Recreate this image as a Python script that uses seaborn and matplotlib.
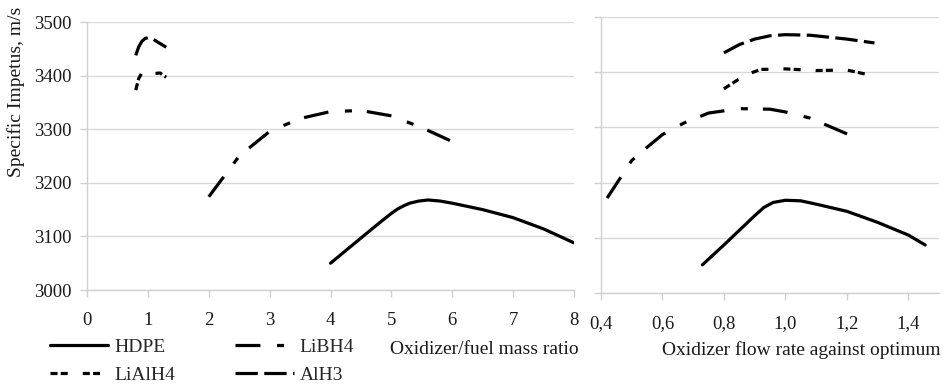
import seaborn as sns
import matplotlib.pyplot as plt
import pandas as pd

# left panel: oxidizer/fuel mass ratio
hdpe_x = [4, 4.5, 4.8, 5, 5.1, 5.2, 5.3, 5.45, 5.6, 5.8, 6, 6.5, 7, 7.5, 8]
hdpe_y = [3050, 3097, 3125, 3143, 3151, 3157, 3162, 3166, 3168, 3166, 3162, 3150, 3135, 3114, 3088]
libh4_x = [2, 2.5, 3, 3.5, 4, 4.5, 5, 5.5, 6]
libh4_y = [3174, 3250, 3296, 3320, 3333, 3335, 3325, 3303, 3277]
lialh4_x = [0.8, 0.85, 0.9, 1.0, 1.1, 1.2, 1.3]
lialh4_y = [3373, 3395, 3405, 3407, 3404, 3405, 3397]
alh3_x = [0.8, 0.85, 0.9, 0.95, 1.0, 1.05, 1.1, 1.2, 1.3]
alh3_y = [3438, 3454, 3464, 3469, 3471, 3470, 3467, 3460, 3453]

# right panel: oxidizer flow rate against optimum
hdpe_r_x = [0.73, 0.8, 0.9, 0.93, 0.96, 1.0, 1.05, 1.1, 1.2, 1.3, 1.4, 1.455]
hdpe_r_y = [3051, 3087, 3140, 3155, 3164, 3168, 3167, 3161, 3148, 3128, 3105, 3087]
libh4_r_x = [0.42, 0.5, 0.55, 0.6, 0.67, 0.75, 0.85, 0.95, 1.0, 1.08, 1.21]
libh4_r_y = [3172, 3240, 3264, 3287, 3308, 3326, 3334, 3333, 3328, 3317, 3286]
lialh4_r_x = [0.8, 0.87, 0.92, 1.0, 1.1, 1.2, 1.29]
lialh4_r_y = [3370, 3395, 3405, 3406, 3403, 3404, 3393]
alh3_r_x = [0.8, 0.85, 0.9, 0.95, 1.0, 1.08, 1.2, 1.29]
alh3_r_y = [3435, 3450, 3460, 3466, 3468, 3467, 3460, 3453]

fuels = ['HDPE', 'LiBH4', 'LiAlH4', 'AlH3']
y_ticks = [3000, 3100, 3200, 3300, 3400, 3500]
left_ticks = [0, 1, 2, 3, 4, 5, 6, 7, 8]
right_ticks = [0.4, 0.6, 0.8, 1.0, 1.2, 1.4]
right_labels = ['0,4', '0,6', '0,8', '1,0', '1,2', '1,4']


def make_df(series):
    rows = []
    for name, xs, ys in series:
        for x, y in zip(xs, ys):
            rows.append({'fuel': name, 'x': x, 'impetus': y})
    return pd.DataFrame(rows)


left = make_df([('HDPE', hdpe_x, hdpe_y), ('LiBH4', libh4_x, libh4_y),
                ('LiAlH4', lialh4_x, lialh4_y), ('AlH3', alh3_x, alh3_y)])
right = make_df([('HDPE', hdpe_r_x, hdpe_r_y), ('LiBH4', libh4_r_x, libh4_r_y),
                 ('LiAlH4', lialh4_r_x, lialh4_r_y), ('AlH3', alh3_r_x, alh3_r_y)])

dash_map = {'HDPE': '', 'LiBH4': (7.8, 5.2, 2.2, 4.7),
            'LiAlH4': (2.2, 1.0, 2.2, 4.7), 'AlH3': (7.0, 2.0)}

sns.set_theme(style='whitegrid')
plt.rcParams['font.family'] = ['Liberation Serif', 'DejaVu Serif']

fig = plt.figure(figsize=(9.43, 3.9), dpi=100)
ax1 = fig.add_axes([0.0923, 0.2564, 0.5164, 0.687])
ax2 = fig.add_axes([0.6373, 0.2487, 0.3585, 0.7077])

for ax, df in [(ax1, left), (ax2, right)]:
    sns.lineplot(data=df, x='x', y='impetus', style='fuel', style_order=fuels,
                 dashes=dash_map, color='black', linewidth=2.3, sort=False,
                 estimator=None, legend=(ax is ax1), ax=ax)
    ax.set_ylim(3000, 3500)
    ax.set_yticks(y_ticks)
    ax.grid(axis='y', color='#d9d9d9', linewidth=1)
    ax.grid(axis='x', visible=False)
    for s in ['top', 'right']:
        ax.spines[s].set_visible(False)
    for s in ['left', 'bottom']:
        ax.spines[s].set_color('#d0d0d0')
        ax.spines[s].set_linewidth(1)
    ax.tick_params(axis='both', which='major', length=5, width=1, color='#d0d0d0',
                   labelsize=13.5, labelcolor='#1a1a1a', bottom=True, left=True)
    ax.tick_params(axis='x', pad=11)
    ax.tick_params(axis='y', pad=6)
    ax.set_ylabel('')

ax1.set_xlim(0, 8)
ax1.set_xticks(left_ticks)
ax2.set_xlim(0.4, 1.5)
ax2.set_xticks(right_ticks)
ax2.set_xticklabels(right_labels)
ax2.tick_params(axis='y', labelleft=False)

ax1.set_xlabel('Oxidizer/fuel mass ratio', fontsize=14, color='#1a1a1a', ha='right', va='top')
ax1.xaxis.set_label_coords(1.01, -0.19)
ax2.set_xlabel('Oxidizer flow rate against optimum', fontsize=14, color='#1a1a1a', ha='right', va='top')
ax2.xaxis.set_label_coords(1.005, -0.174)

fig.text(16 / 943, 1 - 92 / 390, 'Specific Impetus, m/s', rotation=90, fontsize=14,
         color='#1a1a1a', ha='center', va='center')

handles, labels = ax1.get_legend_handles_labels()
ax1.get_legend().remove()
order = [labels.index(n) for n in ['HDPE', 'LiAlH4', 'LiBH4', 'AlH3']]
fig.legend([handles[i] for i in order], [labels[i] for i in order], ncol=2,
           loc='upper left', bbox_to_anchor=(50 / 943, 1 - 338 / 390), frameon=False,
           fontsize=14, handlelength=3.0, handletextpad=0.3, columnspacing=3.1,
           borderpad=0, labelspacing=0.55, borderaxespad=0)

fig.savefig('out.png', dpi=100)
